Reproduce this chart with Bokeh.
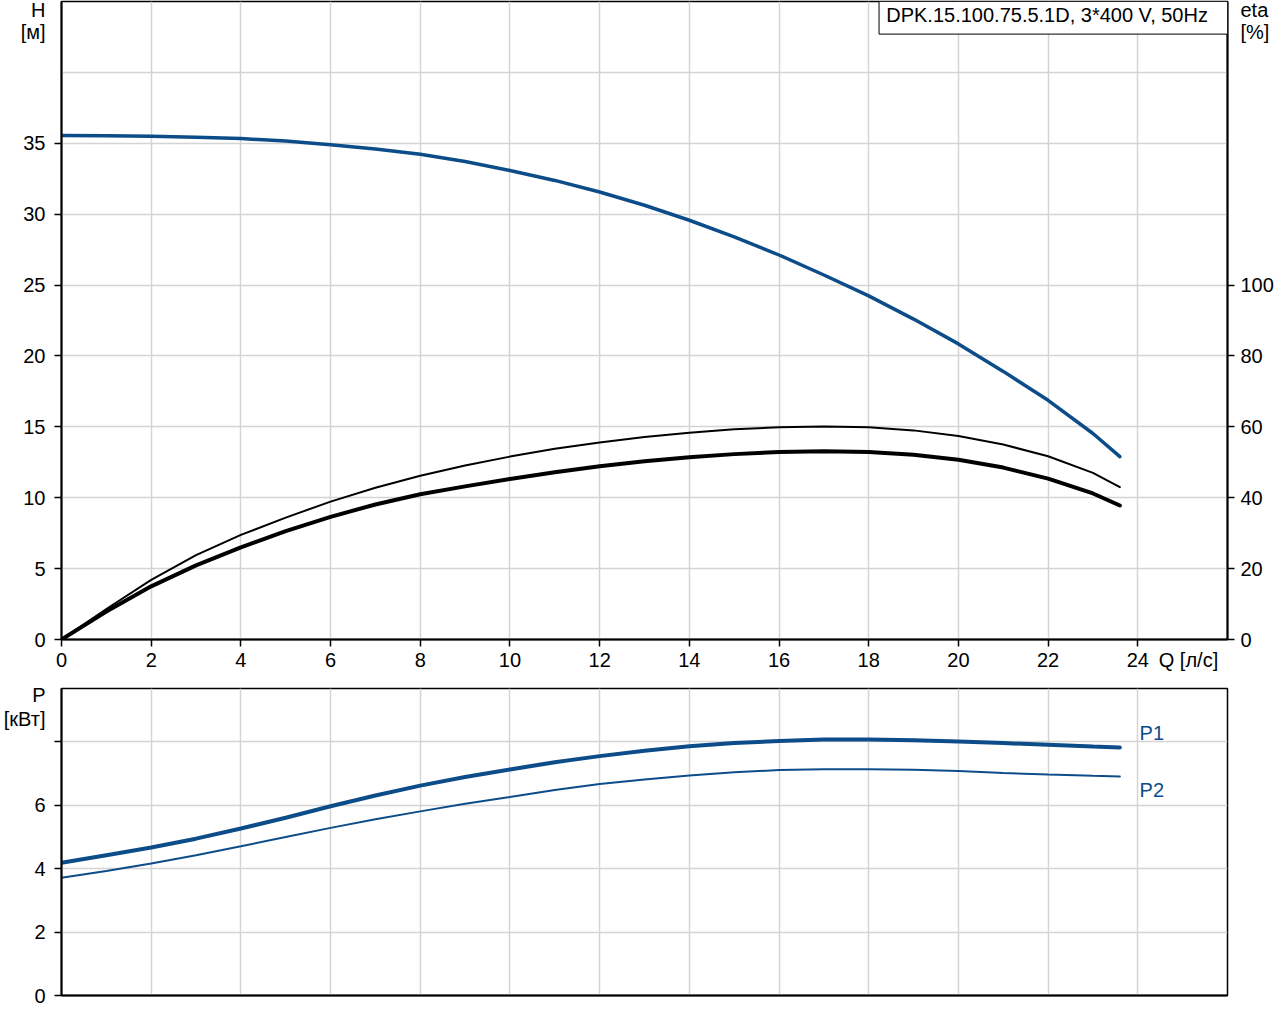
from bokeh.plotting import figure
from bokeh.layouts import column
from bokeh.models import Range1d, LinearAxis, FixedTicker, Label, BoxAnnotation
from bokeh.embed import file_html
from bokeh.resources import INLINE

# ---- data ----
q = [0, 1, 2, 3, 4, 5, 6, 7, 8, 9, 10, 11, 12, 13, 14, 15, 16, 17, 18, 19, 20, 21, 22, 23, 23.6]
h = [35.55, 35.53, 35.5, 35.43, 35.33, 35.16, 34.9, 34.6, 34.23, 33.71, 33.08, 32.38, 31.56,
     30.63, 29.57, 28.40, 27.12, 25.71, 24.24, 22.6, 20.85, 18.91, 16.87, 14.53, 12.9]
eta_thin = [0, 8.6, 16.8, 23.8, 29.5, 34.4, 38.9, 42.8, 46.2, 49.1, 51.6, 53.8, 55.6,
            57.1, 58.3, 59.3, 59.9, 60.1, 59.9, 59.0, 57.4, 55.0, 51.7, 47.0, 43.0]
eta_thick = [0, 7.9, 15.0, 20.9, 26.0, 30.6, 34.6, 38.1, 41.0, 43.2, 45.3, 47.2, 48.9,
             50.3, 51.4, 52.3, 52.9, 53.1, 52.9, 52.1, 50.7, 48.5, 45.4, 41.2, 37.8]
p1 = [4.18, 4.42, 4.66, 4.94, 5.26, 5.60, 5.96, 6.30, 6.61, 6.88, 7.12, 7.35, 7.54,
      7.71, 7.85, 7.95, 8.02, 8.06, 8.06, 8.04, 8.0, 7.95, 7.90, 7.84, 7.81]
p2 = [3.71, 3.92, 4.16, 4.42, 4.70, 4.99, 5.28, 5.55, 5.80, 6.04, 6.25, 6.47, 6.66,
      6.80, 6.93, 7.03, 7.10, 7.13, 7.13, 7.11, 7.07, 7.01, 6.96, 6.92, 6.90]

x_ticks = list(range(0, 25, 2))
h_ticks = [0, 5, 10, 15, 20, 25, 30, 35]
h_grid = [0, 5, 10, 15, 20, 25, 30, 35, 40, 45]
eta_ticks = [0, 20, 40, 60, 80, 100]
p_ticks = [0, 2, 4, 6, 8]
p_labels = [0, 2, 4, 6]

title_text = "DPK.15.100.75.5.1D, 3*400 V, 50Hz"
h_name, h_unit = "H", "[м]"
eta_name, eta_unit = "eta", "[%]"
q_name = "Q [л/с]"
p_name, p_unit = "P", "[кВт]"

BLUE = "#0c4d89"
FONT = "Liberation Sans"
FS = "20px"
GRID = "#d4d4d4"


def tick_axis(ax, ticks):
    ax.ticker = FixedTicker(ticks=ticks)
    ax.axis_line_width = 2
    ax.axis_line_color = "black"
    ax.major_tick_line_width = 1.5
    ax.major_tick_out = 7
    ax.major_tick_in = 0
    ax.minor_tick_line_color = None
    ax.major_label_text_color = None
    ax.major_label_standoff = 0


def label_axis(ax, ticks, overrides, standoff):
    ax.ticker = FixedTicker(ticks=ticks)
    ax.major_label_overrides = overrides
    ax.axis_line_color = None
    ax.major_tick_line_color = None
    ax.major_tick_out = 0
    ax.major_tick_in = 0
    ax.minor_tick_line_color = None
    ax.major_label_standoff = standoff
    ax.major_label_text_font = FONT
    ax.major_label_text_font_size = FS
    ax.major_label_text_color = "black"


def grids(p, xg, yg):
    p.outline_line_color = "black"
    p.outline_line_width = 1.5
    p.xgrid.ticker = FixedTicker(ticks=xg)
    p.ygrid.ticker = FixedTicker(ticks=yg)
    for g in (p.xgrid[0], p.ygrid[0]):
        g.grid_line_color = GRID
        g.grid_line_width = 1.5


# ---- top plot ----
H_MAX = 45
ETA_MAX = 180
top = figure(width=1280, height=680, output_backend="svg", toolbar_location=None,
             x_range=Range1d(0, 26), y_range=Range1d(0, H_MAX),
             min_border_left=61, min_border_right=53, min_border_top=1, min_border_bottom=41)
top.extra_y_ranges = {"eta": Range1d(0, ETA_MAX)}
grids(top, x_ticks, h_grid)

tick_axis(top.xaxis[0], x_ticks)
tick_axis(top.yaxis[0], h_ticks)
eta_tick_ax = LinearAxis(y_range_name="eta")
tick_axis(eta_tick_ax, eta_ticks)
top.add_layout(eta_tick_ax, "right")

h_lab_pos = [H_MAX - 0.58, H_MAX - 2.18]
h_lab = LinearAxis()
label_axis(h_lab, h_ticks + h_lab_pos,
           {h_lab_pos[0]: h_name, h_lab_pos[1]: h_unit}, 9)
top.add_layout(h_lab, "left")

eta_lab_pos = [ETA_MAX - 2.3, ETA_MAX - 8.7]
eta_lab = LinearAxis(y_range_name="eta")
label_axis(eta_lab, eta_ticks + eta_lab_pos,
           {eta_lab_pos[0]: eta_name, eta_lab_pos[1]: eta_unit}, 6)
top.add_layout(eta_lab, "right")

q_lab_pos = 25.13
q_lab = LinearAxis()
label_axis(q_lab, x_ticks + [q_lab_pos], {q_lab_pos: q_name}, 2)
top.add_layout(q_lab, "below")

top.line(q, eta_thin, y_range_name="eta", line_color="black", line_width=2, line_cap="round")
top.line(q, eta_thick, y_range_name="eta", line_color="black", line_width=4, line_cap="round")
top.line(q, h, line_color=BLUE, line_width=3.5, line_cap="round")

top.add_layout(BoxAnnotation(left=18.23, right=26, bottom=42.7, top=H_MAX,
                             fill_color="white", fill_alpha=1,
                             line_color="black", line_width=1, line_alpha=1))
top.add_layout(Label(x=18.39, y=44.06, text=title_text, text_align="left",
                     text_baseline="middle", text_font=FONT, text_font_size=FS,
                     text_color="black"))

# ---- bottom plot ----
P_MAX = 9.67
bot = figure(width=1280, height=344, output_backend="svg", toolbar_location=None,
             x_range=Range1d(0, 26), y_range=Range1d(0, P_MAX),
             min_border_left=61, min_border_right=53, min_border_top=8, min_border_bottom=29)
grids(bot, x_ticks, p_ticks)
bx = bot.xaxis[0]
bx.axis_line_width = 2
bx.major_tick_line_color = None
bx.minor_tick_line_color = None
bx.major_label_text_color = None
bx.ticker = FixedTicker(ticks=x_ticks)
tick_axis(bot.yaxis[0], p_ticks)

p_lab_pos = [9.45, 8.71]
p_lab = LinearAxis()
label_axis(p_lab, p_labels + p_lab_pos, {p_lab_pos[0]: p_name, p_lab_pos[1]: p_unit}, 9)
bot.add_layout(p_lab, "left")

bot.line(q, p2, line_color=BLUE, line_width=2, line_cap="round")
bot.line(q, p1, line_color=BLUE, line_width=4, line_cap="round")

for name, yy in (("P1", 8.26), ("P2", 6.47)):
    bot.add_layout(Label(x=24.04, y=yy, text=name, text_align="left", text_baseline="middle",
                         text_font=FONT, text_font_size=FS, text_color=BLUE))

layout = column(top, bot, spacing=0)
open("out.html", "w").write(file_html(layout, INLINE))
